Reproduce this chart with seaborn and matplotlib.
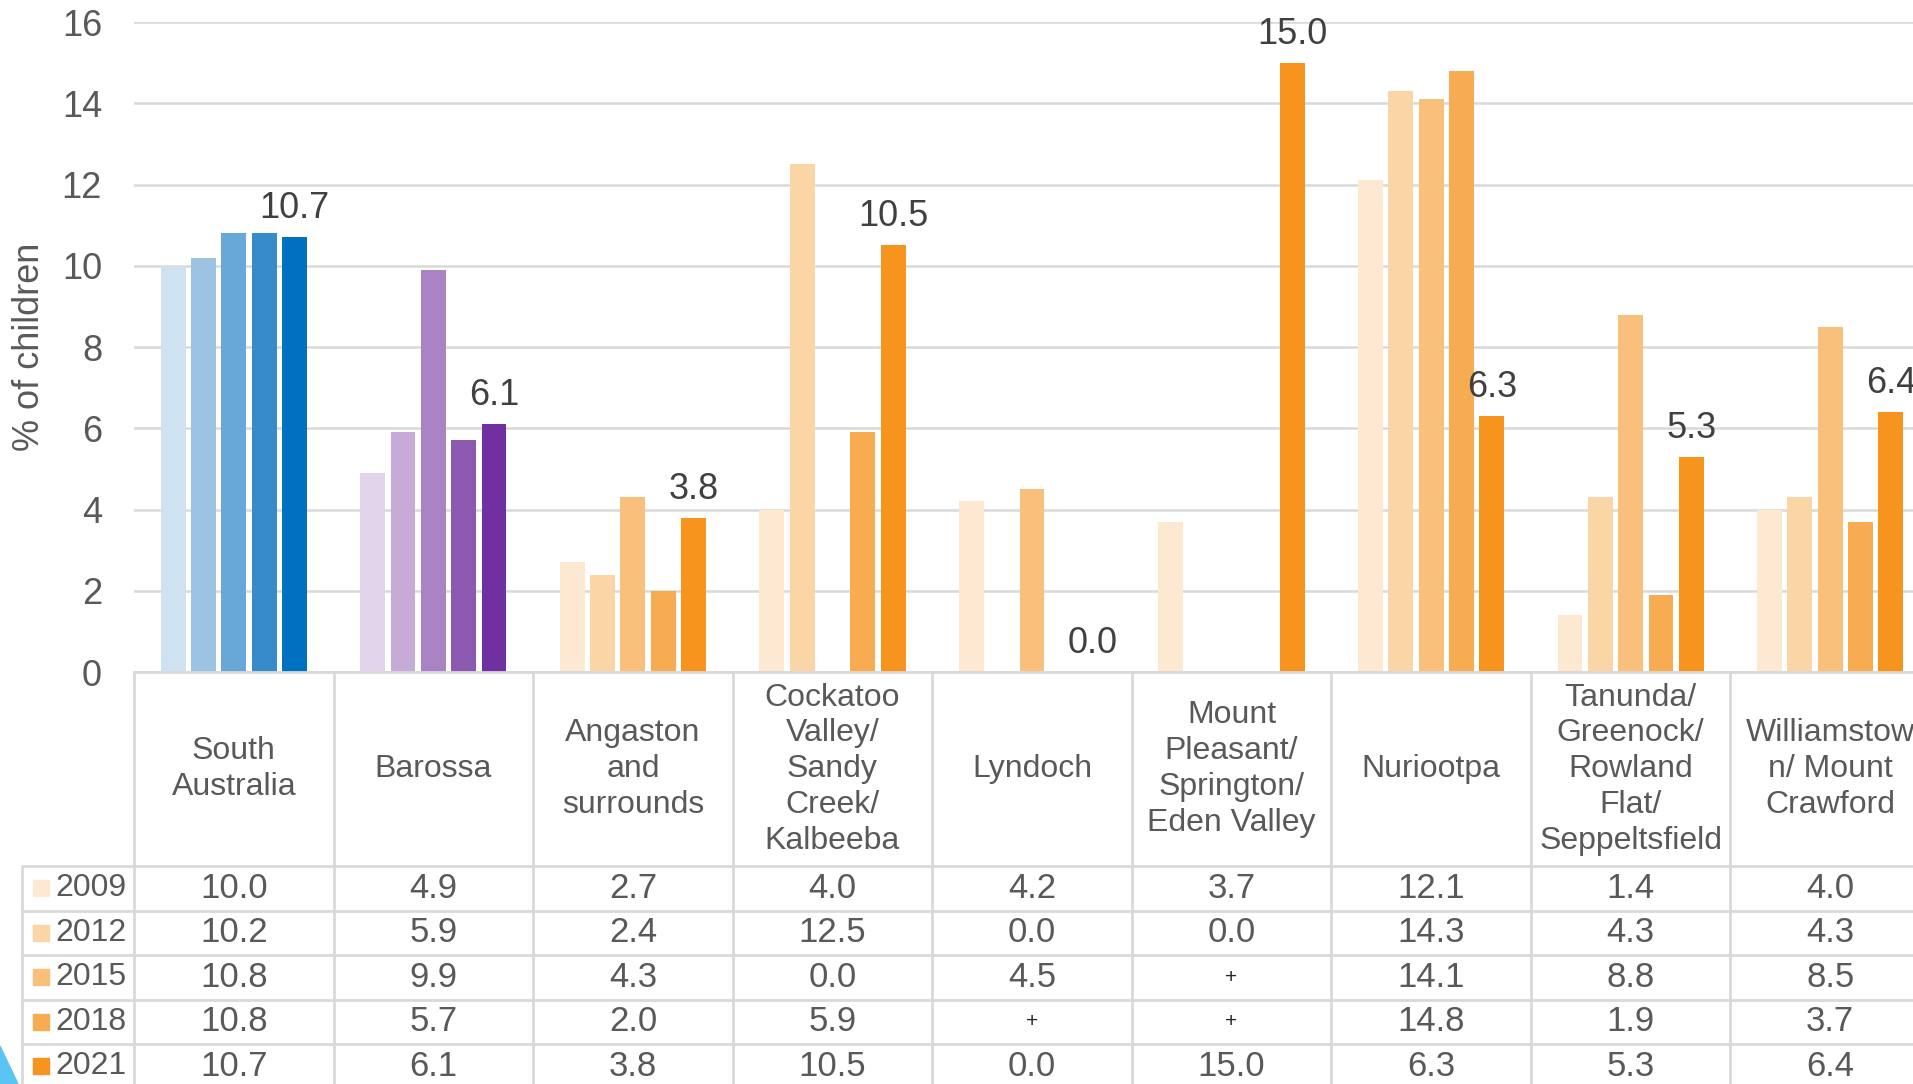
import numpy as np
import pandas as pd
import seaborn as sns
import matplotlib
matplotlib.use("Agg")
from matplotlib import pyplot as plt
import matplotlib.transforms as mtransforms
from matplotlib.patches import Polygon

# ---- data -------------------------------------------------------------
areas = [
    "South\nAustralia",
    "Barossa",
    "Angaston\nand\nsurrounds",
    "Cockatoo\nValley/\nSandy\nCreek/\nKalbeeba",
    "Lyndoch",
    "Mount\nPleasant/\nSprington/\nEden Valley",
    "Nuriootpa",
    "Tanunda/\nGreenock/\nRowland\nFlat/\nSeppeltsfield",
    "Williamstow\nn/ Mount\nCrawford",
]
years = ["2009", "2012", "2015", "2018", "2021"]
# nan = suppressed value, shown as "+" in the table
v2009 = [10.0, 4.9, 2.7, 4.0, 4.2, 3.7, 12.1, 1.4, 4.0]
v2012 = [10.2, 5.9, 2.4, 12.5, 0.0, 0.0, 14.3, 4.3, 4.3]
v2015 = [10.8, 9.9, 4.3, 0.0, 4.5, np.nan, 14.1, 8.8, 8.5]
v2018 = [10.8, 5.7, 2.0, 5.9, np.nan, np.nan, 14.8, 1.9, 3.7]
v2021 = [10.7, 6.1, 3.8, 10.5, 0.0, 15.0, 6.3, 5.3, 6.4]
series = [v2009, v2012, v2015, v2018, v2021]

blues = ["#CFE2F2", "#9DC3E3", "#68A8D8", "#368BCB", "#0070C0"]
purples = ["#E2D5EB", "#C6ABD7", "#A983C4", "#8B59B0", "#7030A0"]
oranges = ["#FDE9D2", "#FAD5A6", "#F9C07C", "#F7AC52", "#F7941E"]
area_palette = [blues, purples] + [oranges] * 7

df = pd.DataFrame({
    "area": [a for _ in years for a in areas],
    "year": [y for y in years for _ in areas],
    "value": [v for s in series for v in s],
})
df["plot_value"] = df["value"].fillna(0)

# ---- figure -----------------------------------------------------------
sns.set_style("white")
plt.rcParams["font.family"] = ["Liberation Sans", "DejaVu Sans"]
grey = "#595959"
line_c = "#D9D9D9"

fig = plt.figure(figsize=(19.13, 10.84), dpi=100)
ax = fig.add_axes([0.07005, 0.38007, 0.93884, 0.59963])

sns.barplot(data=df, x="area", y="plot_value", hue="year", order=areas,
            hue_order=years, errorbar=None, width=0.76, gap=0.18,
            legend=False, ax=ax, zorder=2)

for i, cont in enumerate(ax.containers):
    for bar in cont:
        k = int(round(bar.get_x() + bar.get_width() / 2))
        bar.set_facecolor(area_palette[k][i])
        bar.set_edgecolor("none")

ax.bar_label(ax.containers[4], labels=[f"{v:.1f}" for v in v2021],
             padding=8, fontsize=26, color="#404040")

ax.set_ylim(0, 16)
ax.set_xlim(-0.5, 8.5)
ax.set_yticks(range(0, 17, 2))
ax.set_xticks([])
ax.tick_params(axis="y", length=0, pad=23, labelsize=26, labelcolor=grey)
ax.set_xlabel("")
ax.set_ylabel("% of children", fontsize=26, color=grey)
ax.yaxis.set_label_coords(-0.058, 0.5)
ax.yaxis.label.set_verticalalignment("center")
ax.yaxis.grid(True, color=line_c, lw=1.8, zorder=0)
ax.set_axisbelow(True)
for s in ["left", "right", "top"]:
    ax.spines[s].set_visible(False)
ax.spines["bottom"].set_color(line_c)
ax.spines["bottom"].set_linewidth(2)

# ---- data table under the axis -----------------------------------------
trans = mtransforms.blended_transform_factory(ax.transData, ax.transAxes)


def col_x(px):
    return -0.5 + (px - 134) / 199.5


def row_y(py):
    return (672 - py) / 650


head_bot = row_y(866)
row_h = 44.5 / 650
left_x = col_x(22)
bottom = row_y(1120)
lkw = dict(color=line_c, lw=2, transform=trans, clip_on=False)

for k in range(10):
    ax.plot([k - 0.5, k - 0.5], [0, bottom], **lkw)
ax.plot([left_x, left_x], [head_bot, bottom], **lkw)
for r in range(5):
    y = head_bot - r * row_h
    ax.plot([left_x, 9], [y, y], **lkw)

for k, name in enumerate(areas):
    ax.text(k, (0 + head_bot) / 2, name, transform=trans, ha="center",
            va="center", fontsize=23, color=grey, linespacing=1.25,
            clip_on=False)

for r, (yr, vals) in enumerate(zip(years, series)):
    yc = head_bot - (r + 0.5) * row_h
    ax.plot([col_x(41)], [yc], marker="s", ms=11, color=oranges[r],
            transform=trans, clip_on=False, ls="none")
    ax.text(col_x(55), yc, yr, transform=trans, ha="left", va="center",
            fontsize=23, color=grey, clip_on=False)
    for k, v in enumerate(vals):
        if np.isnan(v):
            ax.text(k, yc, "+", transform=trans, ha="center", va="center",
                    fontsize=15, color="#262626", clip_on=False)
        else:
            ax.text(k, yc, f"{v:.1f}", transform=trans, ha="center",
                    va="center", fontsize=25, color=grey, clip_on=False)

# small decorative corner shape
fig.patches.append(Polygon([[0, 0.035], [0.0094, 0], [0, 0]], closed=True,
                           transform=fig.transFigure, color="#5BC5F2"))

fig.savefig("out.png", dpi=100)
